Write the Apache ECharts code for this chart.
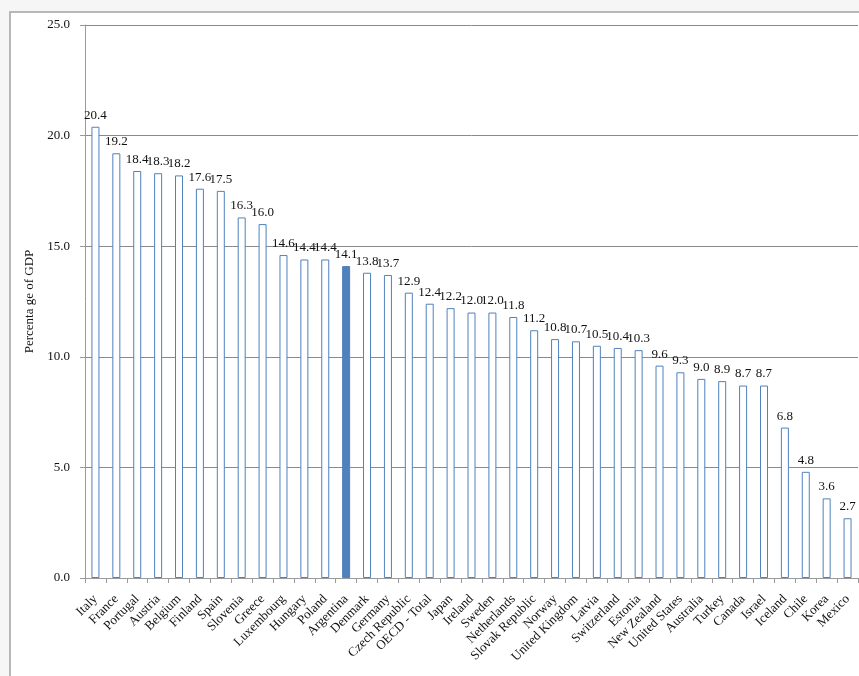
<!DOCTYPE html>
<html>
<head>
<meta charset="utf-8">
<style>
  html, body { margin: 0; padding: 0; background: #f6f6f6; }
  .frame { position: absolute; left: 9px; top: 11px; width: 860px; height: 680px;
    background: #fff; border-left: 2px solid #b8b8b8; border-top: 2px solid #b8b8b8; }
  .chart { position: absolute; left: 0; top: 0; width: 859px; height: 676px; }
</style>
<script src="https://cdn.jsdelivr.net/npm/echarts@6/dist/echarts.min.js"></script>
</head>
<body>
<div class="frame"></div>
<div class="chart"></div>
<script>
var countries = ['Italy', 'France', 'Portugal', 'Austria', 'Belgium', 'Finland', 'Spain', 'Slovenia',
  'Greece', 'Luxembourg', 'Hungary', 'Poland', 'Argentina', 'Denmark', 'Germany', 'Czech Republic',
  'OECD - Total', 'Japan', 'Ireland', 'Sweden', 'Netherlands', 'Slovak Republic', 'Norway',
  'United Kingdom', 'Latvia', 'Switzerland', 'Estonia', 'New Zealand', 'United States', 'Australia',
  'Turkey', 'Canada', 'Israel', 'Iceland', 'Chile', 'Korea', 'Mexico']
var values = [20.4, 19.2, 18.4, 18.3, 18.2, 17.6, 17.5, 16.3, 16.0, 14.6, 14.4, 14.4, 14.1, 13.8,
  13.7, 12.9, 12.4, 12.2, 12.0, 12.0, 11.8, 11.2, 10.8, 10.7, 10.5, 10.4, 10.3, 9.6, 9.3, 9.0,
  8.9, 8.7, 8.7, 6.8, 4.8, 3.6, 2.7]
var highlight = 'Argentina'
var yTicks = [0, 5, 10, 15, 20, 25]

;(function () {
  var myChart = echarts.init(document.querySelector('.chart'))
  var font = '"Liberation Serif", "Times New Roman", serif'
  var option = {
    animation: false,
    textStyle: { fontFamily: font },
    grid: {
      left: 85,
      top: 25,
      right: 1,
      bottom: 98
    },
    xAxis: {
      type: 'category',
      data: countries,
      axisLine: { lineStyle: { color: '#9a9a9a' } },
      axisTick: { show: true, length: 5, lineStyle: { color: '#9a9a9a' } },
      axisLabel: {
        interval: 0,
        rotate: 45,
        margin: 19,
        color: '#111',
        fontSize: 13,
        fontFamily: font
      }
    },
    yAxis: {
      type: 'value',
      min: yTicks[0],
      max: yTicks[yTicks.length - 1],
      interval: 5,
      name: 'Percenta ge of GDP',
      nameLocation: 'middle',
      nameRotate: 90,
      nameGap: 47,
      nameTextStyle: { color: '#111', fontSize: 13, fontFamily: font },
      axisLine: { show: true, lineStyle: { color: '#9a9a9a' } },
      axisTick: { show: true, length: 5, lineStyle: { color: '#9a9a9a' } },
      axisLabel: {
        color: '#111',
        fontSize: 13,
        margin: 15,
        fontFamily: font,
        formatter: function (v) { return v.toFixed(1) }
      },
      splitLine: { lineStyle: { color: '#8a8a8a' } }
    },
    series: [
      {
        type: 'bar',
        barWidth: 8,
        data: values.map(function (v, i) {
          var hot = countries[i] === highlight
          return {
            value: v,
            itemStyle: {
              color: hot ? '#4f81bd' : '#ffffff',
              borderColor: '#4f81bd',
              borderWidth: 1
            }
          }
        }),
        label: {
          show: true,
          position: 'top',
          distance: 5,
          color: '#111',
          fontSize: 13,
          fontFamily: font,
          formatter: function (p) { return p.value.toFixed(1) }
        }
      }
    ]
  }
  myChart.setOption(option)
  window.addEventListener('resize', function () {
    myChart.resize()
  })
})()
</script>
</body>
</html>
